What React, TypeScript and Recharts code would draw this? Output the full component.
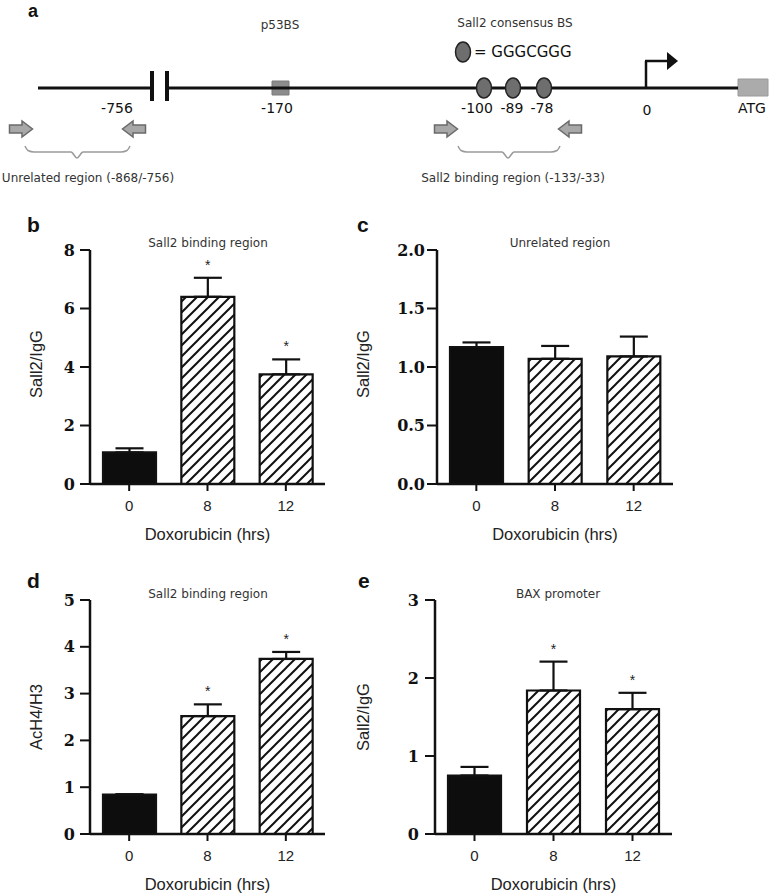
import React from "react";
import {
  Bar,
  BarChart,
  Cell,
  ErrorBar,
  LabelList,
  ReferenceArea,
  ReferenceLine,
  Scatter,
  ScatterChart,
  XAxis,
  YAxis,
} from "recharts";

// --- data ---
const doses = ["0", "8", "12"];

// b: Sall2 ChIP, Sall2 binding region
const bindMean = [1.08, 6.4, 3.75];
const bindErr = [0.14, 0.65, 0.51];
const bindSig = [false, true, true];
const bindTicks = [0, 2, 4, 6, 8];

// c: Sall2 ChIP, unrelated region
const unrelMean = [1.17, 1.07, 1.09];
const unrelErr = [0.04, 0.11, 0.17];
const unrelSig = [false, false, false];
const unrelTicks = [0, 0.5, 1, 1.5, 2];

// d: AcH4/H3, Sall2 binding region
const acMean = [0.84, 2.52, 3.74];
const acErr = [0.01, 0.25, 0.15];
const acSig = [false, true, true];
const acTicks = [0, 1, 2, 3, 4, 5];

// e: Sall2 ChIP, BAX promoter
const baxMean = [0.75, 1.84, 1.6];
const baxErr = [0.11, 0.37, 0.21];
const baxSig = [false, true, true];
const baxTicks = [0, 1, 2, 3];

// a: promoter schematic
const siteNames = ["-756", "-170", "-100", "-89", "-78", "0"];
const gcSites = ["-100", "-89", "-78"];
const captions = ["p53BS", "Sall2 consensus BS", "Unrelated region (-868/-756)", "Sall2 binding region (-133/-33)"];

// schematic layout (track units, not to scale)
const siteX = [117, 277, 477, 512, 542, 647];
const gcX = [484, 513, 544];
const captionXY = [[280, 25], [515, 23], [88, 178], [513, 178]];
const primerXY = [[21, 129, 1], [134, 129, -1], [446, 129, 1], [570, 129, -1]];
const braceUnrel = [[25, 146], [28, 150.5], [34, 152], [71, 152], [77, 158], [83, 152], [121, 152], [127, 150.5], [130, 146]];
const braceSall2 = [[458, 146], [461, 150.5], [467, 152], [502, 152], [508, 158], [514, 152], [551, 152], [557, 150.5], [560, 146]];

const SANS = "'Liberation Sans', Arial, sans-serif";
const VERD = "'DejaVu Sans', Verdana, sans-serif";
const SERIF = "'DejaVu Serif', 'Liberation Serif', serif";
const INK = "#111";

function Schematic() {
  const lineY = 88;
  const txt = (size: number, anchor: string, color: string) => (props: any) => (
    <text x={props.cx} y={props.cy} fontSize={size} fontFamily={VERD} fill={color} textAnchor={anchor} dominantBaseline="central">
      {props.payload.t}
    </text>
  );
  const ellipse = (props: any) => (
    <ellipse cx={props.cx} cy={props.cy} rx={7.5} ry={10} fill="#6e6e6e" stroke="#222" strokeWidth={1.5} />
  );
  const primer = (props: any) => {
    const d = props.payload.d;
    const { cx, cy } = props;
    const p = [[-11.5, -4], [1, -4], [1, -8], [11.5, 0], [1, 8], [1, 4], [-11.5, 4]]
      .map(([dx, dy]) => `${cx + dx * d},${cy + dy}`)
      .join(" ");
    return <polygon points={p} fill="#a8a8a8" stroke="#6a6a6a" strokeWidth={1.5} />;
  };
  const head = (props: any) => (
    <polygon points={`${props.cx - 5},${props.cy - 9} ${props.cx + 6},${props.cy} ${props.cx - 5},${props.cy + 9}`} fill={INK} />
  );
  const none = () => <g />;

  return (
    <ScatterChart width={770} height={195} margin={{ top: 0, right: 0, bottom: 0, left: 0 }}>
      <XAxis type="number" dataKey="x" domain={[0, 770]} hide />
      <YAxis type="number" dataKey="y" domain={[0, 195]} reversed hide />
      <ReferenceLine segment={[{ x: 38, y: lineY }, { x: 152, y: lineY }]} stroke={INK} strokeWidth={3} />
      <ReferenceLine segment={[{ x: 168, y: lineY }, { x: 738, y: lineY }]} stroke={INK} strokeWidth={3} />
      <ReferenceLine segment={[{ x: 152, y: 71 }, { x: 152, y: 101 }]} stroke={INK} strokeWidth={4} />
      <ReferenceLine segment={[{ x: 167, y: 71 }, { x: 167, y: 101 }]} stroke={INK} strokeWidth={4} />
      <ReferenceLine segment={[{ x: 646, y: lineY }, { x: 646, y: 61 }]} stroke={INK} strokeWidth={2.5} />
      <ReferenceLine segment={[{ x: 645, y: 61 }, { x: 668, y: 61 }]} stroke={INK} strokeWidth={2.5} />
      <ReferenceArea x1={272} x2={289} y1={81} y2={95} fill="#8c8c8c" fillOpacity={1} stroke="#7a7a7a" />
      <ReferenceArea x1={738} x2={768} y1={79} y2={96} fill="#ababab" fillOpacity={1} stroke="#9a9a9a" />
      <Scatter data={[{ x: 672, y: 61 }]} shape={head} isAnimationActive={false} />
      <Scatter data={gcX.map((x, i) => ({ x, y: lineY, site: gcSites[i] }))} shape={ellipse} isAnimationActive={false} />
      <Scatter data={[{ x: 463, y: 52 }]} shape={ellipse} isAnimationActive={false} />
      <Scatter data={[{ x: 474, y: 52, t: "= GGGCGGG" }]} shape={txt(15, "start", "#111")} isAnimationActive={false} />
      <Scatter data={siteNames.map((t, i) => ({ x: siteX[i], y: i === 5 ? 110 : 108, t }))} shape={txt(14, "middle", "#111")} isAnimationActive={false} />
      <Scatter data={[{ x: 752, y: 108, t: "ATG" }]} shape={txt(14, "middle", "#111")} isAnimationActive={false} />
      <Scatter data={captions.map((t, i) => ({ x: captionXY[i][0], y: captionXY[i][1], t }))} shape={txt(12, "middle", "#333")} isAnimationActive={false} />
      <Scatter data={primerXY.map(([x, y, d]) => ({ x, y, d }))} shape={primer} isAnimationActive={false} />
      <Scatter data={braceUnrel.map(([x, y]) => ({ x, y }))} shape={none} line={{ stroke: "#9a9a9a", strokeWidth: 1.5 }} lineType="joint" lineJointType="monotoneX" isAnimationActive={false} />
      <Scatter data={braceSall2.map(([x, y]) => ({ x, y }))} shape={none} line={{ stroke: "#9a9a9a", strokeWidth: 1.5 }} lineType="joint" lineJointType="monotoneX" isAnimationActive={false} />
    </ScatterChart>
  );
}

type PanelProps = {
  id: string;
  mean: number[];
  err: number[];
  sig: boolean[];
  ticks: number[];
  decimals: number;
  left: number;
  top: number;
  plotLeft: number;
  plotRight: number;
  yW: number;
  tickGap: number;
};

function BarPanel(p: PanelProps) {
  const W = 385;
  const H = 318;
  const data = doses.map((dose, i) => ({ dose, mean: p.mean[i], err: [0, p.err[i]] }));
  const P = 11;

  const star = (props: any) => {
    const i = props.index;
    if (!p.sig[i]) return null;
    const x = Number(props.x), y = Number(props.y), w = Number(props.width), h = Number(props.height);
    const capY = y - (p.err[i] * h) / p.mean[i];
    return (
      <text x={x + w / 2} y={capY - 8} textAnchor="middle" fontSize={14} fontFamily={SANS} fill="#222">
        *
      </text>
    );
  };

  return (
    <div style={{ position: "absolute", left: p.left, top: p.top }}>
      <BarChart
        width={W}
        height={H}
        data={data}
        margin={{ top: 20, right: W - p.plotRight, bottom: 8, left: p.plotLeft - p.yW }}
      >
        <defs>
          <pattern id={`hatch-${p.id}`} patternUnits="userSpaceOnUse" width={P} height={P}>
            <rect width={P} height={P} fill="#fff" />
            <path d={`M-2,2 L2,-2 M0,${P} L${P},0 M${P - 2},${P + 2} L${P + 2},${P - 2}`} stroke={INK} strokeWidth={2} />
          </pattern>
        </defs>
        <XAxis
          dataKey="dose"
          interval={0}
          height={56}
          axisLine={{ stroke: INK, strokeWidth: 2.5 }}
          tickLine={{ stroke: INK, strokeWidth: 2 }}
          tickSize={7}
          tickMargin={9}
          tick={{ fill: "#222", fontSize: 15, fontFamily: SANS }}
          label={{ value: "Doxorubicin (hrs)", position: "insideBottom", offset: 0, fill: "#222", fontSize: 16.5, fontFamily: SANS }}
        />
        <YAxis
          type="number"
          width={p.yW}
          domain={[0, p.ticks[p.ticks.length - 1]]}
          ticks={p.ticks}
          interval={0}
          tickFormatter={(v: number) => v.toFixed(p.decimals)}
          axisLine={{ stroke: INK, strokeWidth: 2.5 }}
          tickLine={{ stroke: INK, strokeWidth: 2 }}
          tickSize={10}
          tickMargin={p.tickGap}
          tick={{ fill: INK, fontSize: 16, fontWeight: "bold", fontFamily: SERIF }}
        />
        <Bar dataKey="mean" barSize={53} stroke={INK} strokeWidth={2.2} isAnimationActive={false}>
          {data.map((_, i) => (
            <Cell key={`c-${i}`} fill={i === 0 ? "#0d0d0d" : `url(#hatch-${p.id})`} />
          ))}
          <ErrorBar dataKey="err" width={14} strokeWidth={2.2} stroke={INK} direction="y" />
          <LabelList dataKey="mean" content={star} />
        </Bar>
      </BarChart>
    </div>
  );
}

function Overlay() {
  const letter = (x: number, y: number, t: string, size = 21) => (
    <text x={x} y={y} fontSize={size} fontWeight="bold" fontFamily={SANS} fill={INK}>
      {t}
    </text>
  );
  const title = (x: number, y: number, t: string) => (
    <text x={x} y={y} fontSize={12} fontFamily={VERD} fill="#333" textAnchor="middle" dominantBaseline="central">
      {t}
    </text>
  );
  const ylab = (x: number, y: number, t: string) => (
    <text x={x} y={y} fontSize={16.5} fontFamily={SANS} fill="#222" textAnchor="middle" dominantBaseline="central" transform={`rotate(-90 ${x} ${y})`}>
      {t}
    </text>
  );
  return (
    <svg width={770} height={894} style={{ position: "absolute", left: 0, top: 0, pointerEvents: "none" }}>
      {letter(28, 17, "a", 18)}
      {letter(27, 232, "b")}
      {letter(357, 232, "c")}
      {letter(27, 588, "d")}
      {letter(358, 588, "e")}
      {title(208, 243, "Sall2 binding region")}
      {title(560, 243, "Unrelated region")}
      {title(208, 594, "Sall2 binding region")}
      {title(558, 594, "BAX promoter")}
      {ylab(36, 364, "Sall2/IgG")}
      {ylab(363, 364, "Sall2/IgG")}
      {ylab(36, 717, "AcH4/H3")}
      {ylab(363, 717, "Sall2/IgG")}
    </svg>
  );
}

export default function App() {
  return (
    <div style={{ position: "absolute", left: 0, top: 0, width: 770, height: 894, background: "#fff", overflow: "hidden" }}>
      <div style={{ position: "absolute", left: 0, top: 0 }}>
        <Schematic />
      </div>
      <BarPanel id="b" mean={bindMean} err={bindErr} sig={bindSig} ticks={bindTicks} decimals={0} left={0} top={230} plotLeft={90} plotRight={325} yW={60} tickGap={5} />
      <BarPanel id="c" mean={unrelMean} err={unrelErr} sig={unrelSig} ticks={unrelTicks} decimals={1} left={385} top={230} plotLeft={52} plotRight={288} yW={50} tickGap={2} />
      <BarPanel id="d" mean={acMean} err={acErr} sig={acSig} ticks={acTicks} decimals={0} left={0} top={580} plotLeft={90} plotRight={325} yW={60} tickGap={5} />
      <BarPanel id="e" mean={baxMean} err={baxErr} sig={baxSig} ticks={baxTicks} decimals={0} left={385} top={580} plotLeft={50} plotRight={287} yW={48} tickGap={6} />
      <Overlay />
    </div>
  );
}
